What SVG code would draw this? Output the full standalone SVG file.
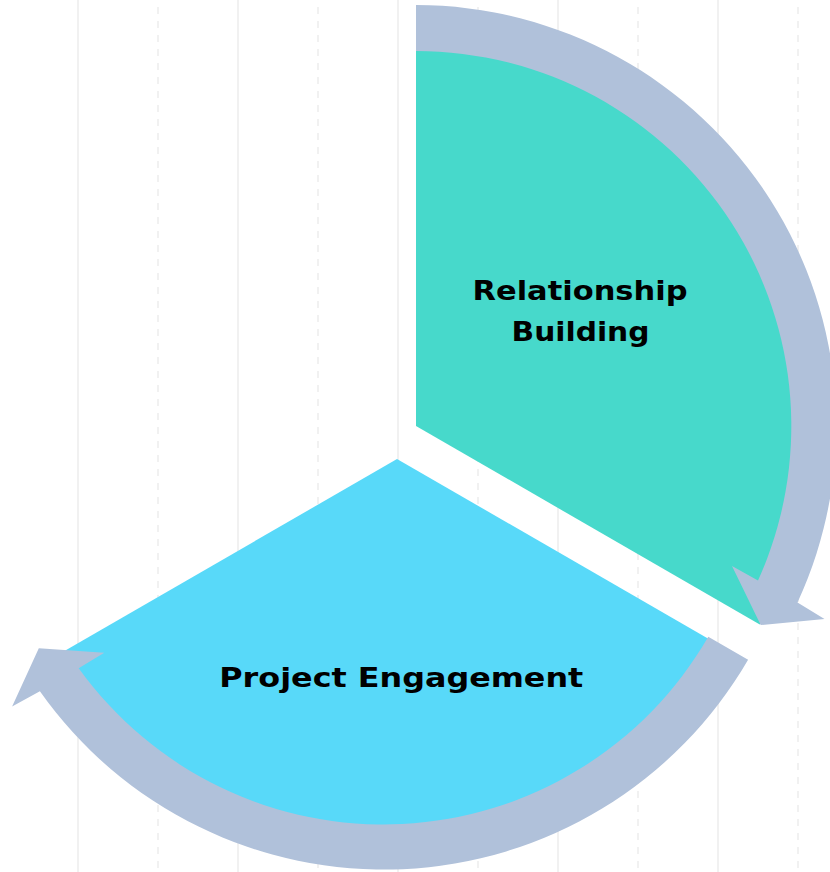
<svg xmlns="http://www.w3.org/2000/svg" xmlns:xlink="http://www.w3.org/1999/xlink" width="830" height="872" viewBox="0 0 830 872">
  <style>
    .grid { stroke: #EEEEEE; stroke-width: 1.6; fill: none; }
    .dash { stroke-dasharray: 7 7; stroke-dashoffset: 7; }
    .band { fill: #B0C1DA; }
    .label { font-family: "DejaVu Sans", "Liberation Sans", sans-serif; font-weight: bold; font-size: 26px; fill: #000000; text-anchor: middle; }
  </style>
  <defs>
    <path id="cycleArrow" d="M0,-421 A421,421 0 0 1 381.5,176.5 L408.5,193 L344.7,199 L316,140 L342,154.5 A375,375 0 0 0 0,-375 Z"/>
  </defs>
  <rect x="0" y="0" width="830" height="872" fill="#FFFFFF"/>
  <g id="grid">
    <line class="grid" x1="78" y1="0" x2="78" y2="872"/>
    <line class="grid dash" x1="158" y1="0" x2="158" y2="872"/>
    <line class="grid" x1="238" y1="0" x2="238" y2="872"/>
    <line class="grid dash" x1="318" y1="0" x2="318" y2="872"/>
    <line class="grid" x1="398" y1="0" x2="398" y2="872"/>
    <line class="grid dash" x1="478" y1="0" x2="478" y2="872"/>
    <line class="grid" x1="558" y1="0" x2="558" y2="872"/>
    <line class="grid dash" x1="638" y1="0" x2="638" y2="872"/>
    <line class="grid" x1="718" y1="0" x2="718" y2="872"/>
    <line class="grid dash" x1="798" y1="0" x2="798" y2="872"/>
  </g>
  <g id="node-relationship-building">
    <path d="M416,426 L416,29 A397,397 0 0 1 759.8,624.5 Z" fill="#47D9CB"/>
    <text class="label" x="580" y="299.5" textLength="215" lengthAdjust="spacingAndGlyphs">Relationship</text>
    <text class="label" x="580.5" y="341" textLength="138" lengthAdjust="spacingAndGlyphs">Building</text>
  </g>
  <g id="node-project-engagement">
    <path d="M397,459 L740.8,657.5 A397,397 0 0 1 53.2,657.5 Z" fill="#58D9F9"/>
    <text class="label" x="401.3" y="687.3" textLength="364" lengthAdjust="spacingAndGlyphs">Project Engagement</text>
  </g>
  <g id="connectors">
    <use xlink:href="#cycleArrow" href="#cycleArrow" class="band" transform="translate(416,426)"/>
    <use xlink:href="#cycleArrow" href="#cycleArrow" class="band" transform="translate(383.5,449.2) rotate(120)"/>
  </g>
</svg>
